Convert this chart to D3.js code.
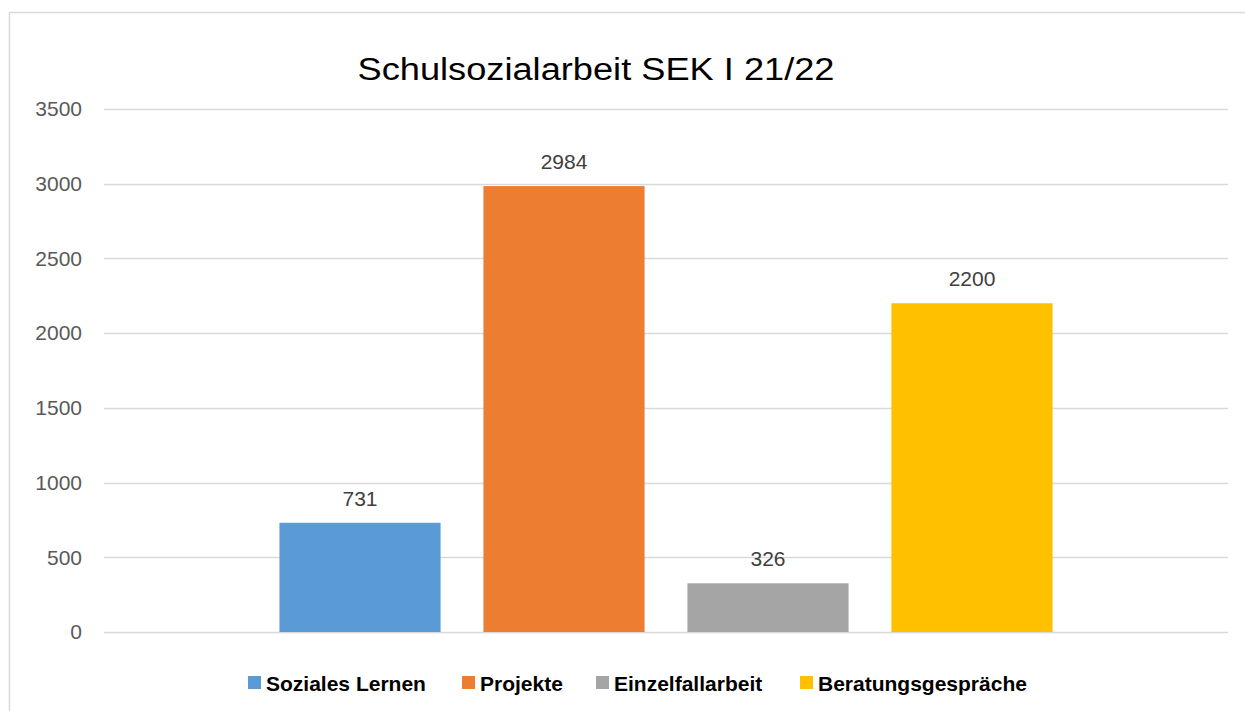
<!DOCTYPE html>
<html>
<head>
<meta charset="utf-8">
<script src="https://cdn.jsdelivr.net/npm/d3@7"></script>
<style>
  body { margin: 0; background: #fff; }
  svg { display: block; font-family: "Liberation Sans", Arial, sans-serif; }
</style>
</head>
<body>
<div id="chart"></div>
<script>
var chartTitle = 'Schulsozialarbeit SEK I 21/22';
var series = ['Soziales Lernen', 'Projekte', 'Einzelfallarbeit', 'Beratungsgespräche'];
var values = [731, 2984, 326, 2200];
var colors = ['#5b9bd5', '#ed7d31', '#a5a5a5', '#ffc000'];
var yTicks = [0, 500, 1000, 1500, 2000, 2500, 3000, 3500];

var width = 1245, height = 711;
var margin = { top: 109, right: 17, bottom: 79, left: 104 };

var svg = d3.select('#chart').append('svg')
    .attr('width', width).attr('height', height);

// chart frame (only top and left edges are in view)
svg.append('path')
    .attr('d', 'M9.5,' + height + 'V12.5H' + width)
    .attr('fill', 'none').attr('stroke', '#d9d9d9').attr('stroke-width', 1.5);

var y = d3.scaleLinear().domain([0, 3500])
    .range([height - margin.bottom, margin.top]);

var x = d3.scaleBand().domain(series)
    .range([margin.left, width - margin.right])
    .paddingInner(0.21).paddingOuter(0.86);

// gridlines
svg.append('g').selectAll('line').data(yTicks)
  .enter().append('line')
    .attr('x1', margin.left).attr('x2', width - margin.right)
    .attr('y1', function(d) { return Math.round(y(d)) + 0.5; })
    .attr('y2', function(d) { return Math.round(y(d)) + 0.5; })
    .attr('stroke', '#d9d9d9').attr('stroke-width', 1.5);

// y axis labels
var yAxis = svg.append('g')
    .attr('transform', 'translate(' + (margin.left - 22) + ',0)')
    .call(d3.axisLeft(y).tickValues(yTicks).tickFormat(d3.format('d'))
      .tickSize(0).tickPadding(0));
yAxis.select('.domain').remove();
yAxis.selectAll('text')
    .attr('font-size', 21).attr('fill', '#595959')
    .attr('font-family', '"Liberation Sans", Arial, sans-serif');

// bars
svg.append('g').selectAll('rect').data(values)
  .enter().append('rect')
    .attr('x', function(d, i) { return x(series[i]); })
    .attr('width', x.bandwidth())
    .attr('y', function(d) { return y(d); })
    .attr('height', function(d) { return y(0) - y(d); })
    .attr('fill', function(d, i) { return colors[i]; });

// data labels
svg.append('g').selectAll('text').data(values)
  .enter().append('text')
    .attr('x', function(d, i) { return x(series[i]) + x.bandwidth() / 2; })
    .attr('y', function(d) { return y(d) - 17; })
    .attr('text-anchor', 'middle')
    .attr('font-size', 21).attr('fill', '#404040')
    .text(function(d) { return d; });

// title
svg.append('text')
    .attr('x', 596).attr('y', 80)
    .attr('text-anchor', 'middle')
    .attr('font-size', 31).attr('fill', '#000')
    .attr('textLength', 477).attr('lengthAdjust', 'spacingAndGlyphs')
    .text(chartTitle);

// legend
var legendX = [248, 462, 596, 800];
var legend = svg.append('g').selectAll('g').data(series)
  .enter().append('g')
    .attr('transform', function(d, i) { return 'translate(' + legendX[i] + ',676)'; });
legend.append('rect')
    .attr('width', 13).attr('height', 13)
    .attr('fill', function(d, i) { return colors[i]; });
legend.append('text')
    .attr('x', 18).attr('y', 14.5)
    .attr('font-size', 21).attr('font-weight', 'bold').attr('fill', '#000')
    .text(function(d) { return d; });
</script>
</body>
</html>
